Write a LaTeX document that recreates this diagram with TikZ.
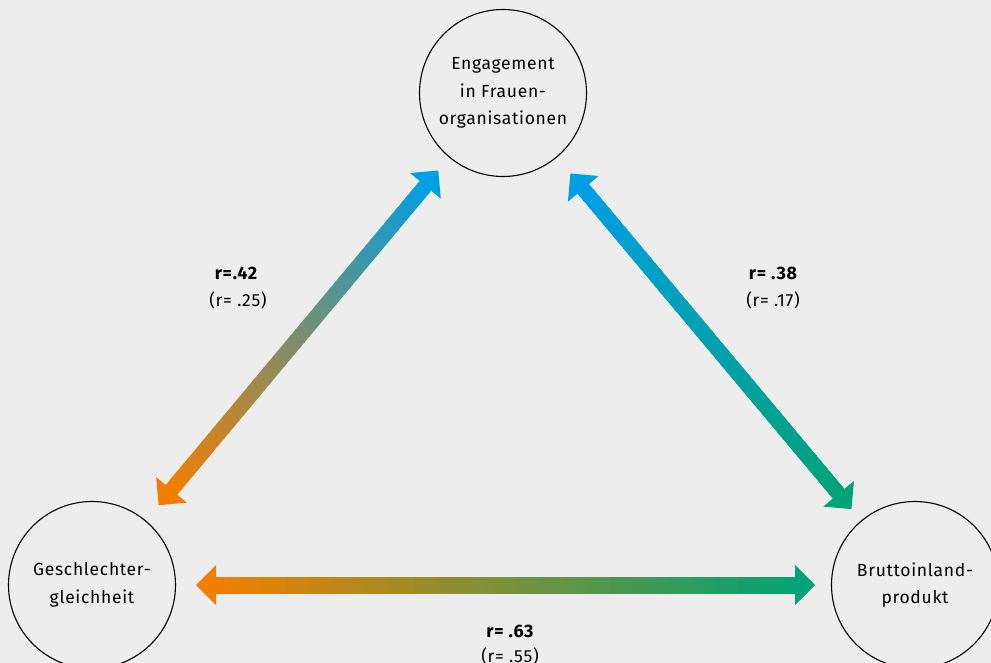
\documentclass[tikz,border=0pt]{standalone}
\usepackage{fontspec}
\setmainfont{Fira Sans}[LetterSpace=4]
\usetikzlibrary{calc,positioning}
\definecolor{bggrey}{HTML}{EDEDED}
\definecolor{korange}{RGB}{239,127,0}
\definecolor{kblue}{RGB}{0,159,227}
\definecolor{kgreen}{RGB}{0,163,117}
\tikzstyle{factor} = [draw,circle,line width=1.1pt,minimum size=167pt,inner sep=0,align=center,font=\fontsize{17.5}{27.5}\selectfont]
\tikzstyle{coef} = [font=\fontsize{18}{20}\selectfont\bfseries]
\tikzstyle{coefp} = [font=\fontsize{17.5}{20}\selectfont]
\def \hl {20pt}
\def \hw {20pt}
\newcommand{\corrarrow}[7]{%
  \coordinate (ta) at ($(#1)!#3!(#2)$);
  \coordinate (tb) at ($(#2)!#4!(#1)$);
  \coordinate (sa) at ($(ta)!19pt!(tb)$);
  \coordinate (sb) at ($(tb)!19pt!(ta)$);
  \foreach \i in {0,...,49}{
    \pgfmathtruncatemacro{\p}{100-2*\i}
    \draw[line width=#7,draw=#5!\p!#6] ($(sa)!{\i/50}!(sb)$) -- ($(sa)!{(\i+1.6)/50}!(sb)$);
  }
  \coordinate (ha) at ($(ta)!\hl!(tb)$);
  \coordinate (hb) at ($(tb)!\hl!(ta)$);
  \fill[#5] (ta) -- ($(ha)!\hw!90:(tb)$) -- ($(ha)!\hw!-90:(tb)$) -- cycle;
  \fill[#6] (tb) -- ($(hb)!\hw!90:(ta)$) -- ($(hb)!\hw!-90:(ta)$) -- cycle;
}

\begin{document}
\begin{tikzpicture}[x=1pt,y=-1pt]
      \fill[bggrey] (0,0) rectangle (991,663);
      \useasboundingbox (0,0) rectangle (991,663);
      \node[factor] (eng) at (503,93) {Engagement\\in Frauen-\\organisationen};
      \node[factor] (geb) at (92,585) {Geschlechter-\\gleichheit};
      \node[factor] (bip) at (915,585) {Bruttoinland-\\produkt};
      \corrarrow{geb}{eng}{104pt}{101pt}{korange}{kblue}{15pt}
      \corrarrow{eng}{bip}{105pt}{99pt}{kblue}{kgreen}{15pt}
      \corrarrow{geb}{bip}{104pt}{100pt}{korange}{kgreen}{17pt}
      \node[coef] (r1) at (236,273) {r=.42};
      \node[coefp] (r1p) at (238,300) {(r= .25)};
      \node[coef] (r2) at (773,273) {r= .38};
      \node[coefp] (r2p) at (773,300) {(r= .17)};
      \node[coef] (r3) at (510,631) {r= .63};
      \node[coefp] (r3p) at (510,656) {(r= .55)};
    \end{tikzpicture}
\end{document}
